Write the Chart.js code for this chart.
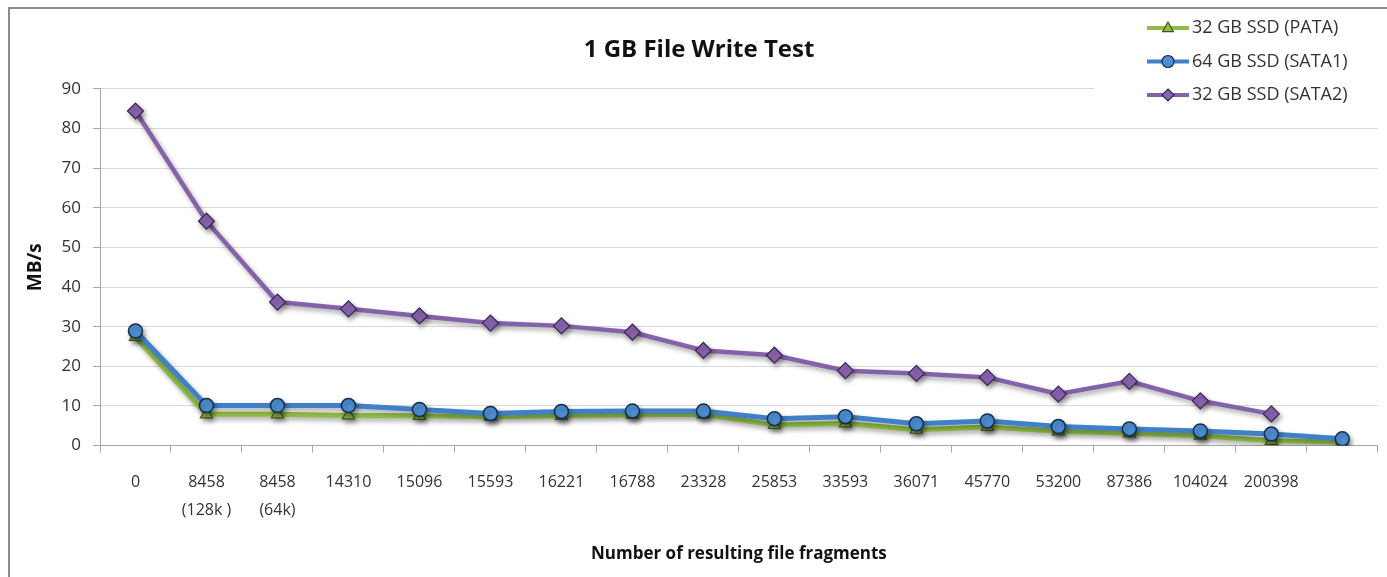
<!DOCTYPE html>
<html>
<head>
<meta charset="utf-8">
<script src="https://cdn.jsdelivr.net/npm/chart.js@4"></script>
<style>
  body { margin: 0; background: #fff; }
  canvas { display: block; }
</style>
</head>
<body>
<canvas id="chart" width="1387" height="577"></canvas>
<script>
const ctx = document.querySelector("#chart").getContext("2d");

// fragment counts on the x axis (last slot has no label)
const categories = [
  "0", ["8458", "(128k )"], ["8458", "(64k)"], "14310", "15096", "15593",
  "16221", "16788", "23328", "25853", "33593", "36071", "45770", "53200",
  "87386", "104024", "200398", ""
];

// MB/s
const pata = [27.4, 7.9, 7.9, 7.6, 7.5, 7.3, 7.5, 7.8, 7.9, 5.2, 5.6, 4.0, 4.7, 3.6, 3.1, 2.5, 1.2, 0.9];
const sata1 = [28.9, 10.1, 10.1, 10.1, 9.1, 8.1, 8.6, 8.7, 8.7, 6.8, 7.3, 5.5, 6.2, 4.8, 4.2, 3.7, 2.9, 1.7];
const sata2 = [84.4, 56.6, 36.2, 34.5, 32.7, 30.9, 30.2, 28.6, 24.0, 22.8, 18.9, 18.2, 17.2, 13.0, 16.2, 11.3, 8.0];

const yTicks = [0, 10, 20, 30, 40, 50, 60, 70, 80, 90];

const FONT = "'Open Sans', 'Liberation Sans', sans-serif";

// grey frame around the whole chart (cut off at right and bottom like the original)
const frame = {
  id: "frame",
  beforeDraw(chart) {
    const c = chart.ctx;
    c.save();
    c.fillStyle = "#fff";
    c.fillRect(0, 0, chart.width, chart.height);
    c.strokeStyle = "#8c8c8c";
    c.lineWidth = 2;
    c.strokeRect(9, 8, chart.width + 20, chart.height + 20);
    c.restore();
  },
};

// soft shadow under the lines
const shadow = {
  id: "shadow",
  beforeDatasetsDraw(chart) {
    const c = chart.ctx;
    c.save();
    c.shadowColor = "rgba(0,0,0,0.35)";
    c.shadowBlur = 5;
    c.shadowOffsetX = 2;
    c.shadowOffsetY = 3;
  },
  afterDatasetsDraw(chart) {
    chart.ctx.restore();
  },
};

function drawMarker(c, style, x, y, r) {
  if (style === "circle") {
    c.arc(x, y, r, 0, Math.PI * 2);
  } else if (style === "triangle") {
    c.moveTo(x, y - r);
    c.lineTo(x + r * 0.9, y + r * 0.6);
    c.lineTo(x - r * 0.9, y + r * 0.6);
    c.closePath();
  } else {
    c.moveTo(x, y - r);
    c.lineTo(x + r, y);
    c.lineTo(x, y + r);
    c.lineTo(x - r, y);
    c.closePath();
  }
}

// legend box in the top-right corner, over the plot
const cornerLegend = {
  id: "cornerLegend",
  afterDraw(chart) {
    const c = chart.ctx;
    c.save();
    c.fillStyle = "#fff";
    c.fillRect(1094, 11, 300, 98);
    chart.data.datasets.forEach((ds, i) => {
      const y = 28 + i * 33.5;
      c.strokeStyle = ds.borderColor;
      c.lineWidth = 4;
      c.beginPath();
      c.moveTo(1147, y);
      c.lineTo(1189, y);
      c.stroke();
      c.fillStyle = ds.pointBackgroundColor;
      c.strokeStyle = ds.pointBorderColor;
      c.lineWidth = 1.2;
      c.beginPath();
      drawMarker(c, ds.pointStyle, 1168, y, 6);
      c.fill();
      c.stroke();
      c.fillStyle = "#333";
      c.font = "18px " + FONT;
      c.textBaseline = "middle";
      c.textAlign = "left";
      c.fillText(ds.label, 1192, y);
    });
    c.restore();
  },
};

new Chart(ctx, {
  type: "line",
  data: {
    labels: categories,
    datasets: [
      {
        label: "32 GB SSD (PATA)",
        data: pata,
        borderColor: "#8fbc45",
        borderWidth: 5,
        pointStyle: "triangle",
        pointRadius: 7,
        pointBackgroundColor: "#8fbc45",
        pointBorderColor: "#3f5a1a",
        pointBorderWidth: 1.2,
        order: 1,
      },
      {
        label: "64 GB SSD (SATA1)",
        data: sata1,
        borderColor: "#3f80c8",
        borderWidth: 5,
        pointStyle: "circle",
        pointRadius: 7,
        pointBackgroundColor: "#4d8fd4",
        pointBorderColor: "#152d4a",
        pointBorderWidth: 1.5,
        order: 0,
      },
      {
        label: "32 GB SSD (SATA2)",
        data: sata2,
        borderColor: "#8462a9",
        borderWidth: 4.5,
        pointStyle: "rectRot",
        pointRadius: 8,
        pointBackgroundColor: "#8a64b0",
        pointBorderColor: "#3a2552",
        pointBorderWidth: 1.2,
        order: 2,
      },
    ],
  },
  options: {
    responsive: false,
    animation: false,
    devicePixelRatio: 1,
    layout: { padding: { left: 20, right: 9, top: 8, bottom: 8 } },
    plugins: {
      legend: { display: false },
      tooltip: { enabled: false },
      title: {
        display: true,
        text: "1 GB File Write Test",
        color: "#111",
        font: { family: FONT, size: 24, weight: "bold" },
        padding: { top: 28, bottom: 24 },
      },
    },
    scales: {
      x: {
        offset: true,
        grid: {
          offset: true,
          drawOnChartArea: false,
          drawTicks: true,
          tickLength: 7,
          tickColor: "#a6a6a6",
        },
        border: { color: "#a6a6a6", width: 1 },
        ticks: {
          autoSkip: false,
          maxRotation: 0,
          color: "#333",
          padding: 16,
          font: { family: FONT, size: 16, lineHeight: 1.75 },
        },
        title: {
          display: true,
          text: "Number of resulting file fragments",
          color: "#111",
          font: { family: FONT, size: 17, weight: "bold" },
          padding: { top: 3, bottom: 5 },
        },
      },
      y: {
        min: 0,
        max: 90,
        afterFit(scale) { scale.width = 80; },
        afterBuildTicks(scale) { scale.ticks = yTicks.map((v) => ({ value: v })); },
        grid: {
          color: "#d9d9d9",
          tickColor: "#a6a6a6",
          tickLength: 7,
        },
        border: { color: "#a6a6a6", width: 1 },
        ticks: {
          color: "#333",
          padding: 12,
          font: { family: FONT, size: 17 },
        },
        title: {
          display: true,
          text: "MB/s",
          color: "#111",
          font: { family: FONT, size: 19, weight: "bold" },
          padding: { top: 4, bottom: 0 },
        },
      },
    },
  },
  plugins: [frame, shadow, cornerLegend],
});
</script>
</body>
</html>
